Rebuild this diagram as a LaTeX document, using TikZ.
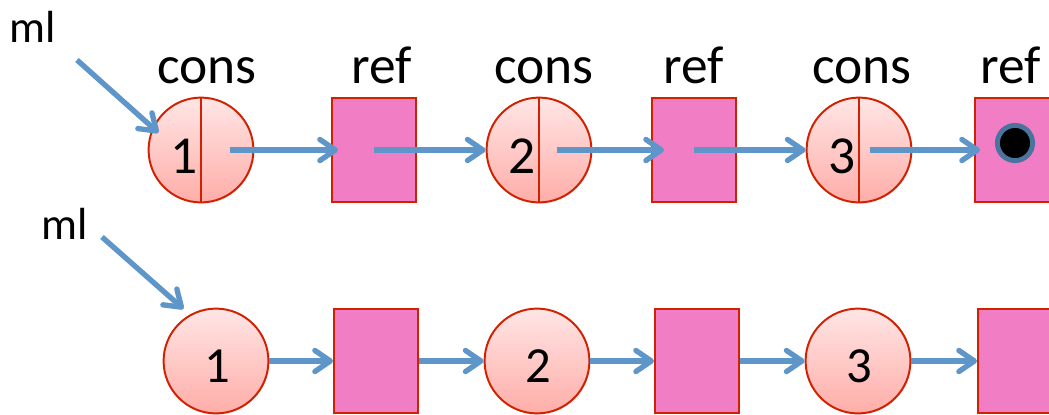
\documentclass[tikz,border=0pt]{standalone}
\usepackage{fontspec}
\setmainfont{Carlito}
\usetikzlibrary{arrows.meta}
\usetikzlibrary{calc}
\usetikzlibrary{shadows}
\definecolor{mpink}{rgb}{0.945, 0.49, 0.77}
\definecolor{mblush}{rgb}{1, 0.9, 0.9}
\definecolor{mrose}{rgb}{1, 0.68, 0.66}
\definecolor{mscarlet}{rgb}{0.82, 0.13, 0}
\definecolor{msky}{rgb}{0.37, 0.59, 0.79}
\definecolor{msteel}{rgb}{0.29, 0.45, 0.62}
\tikzset{cell/.style = {circle, draw = mscarlet, line width = 1.4pt, top color = mblush, bottom color = mrose, minimum size = 2.62cm, inner sep = 0, drop shadow = {opacity = 0.15, shadow xshift = 0.7pt, shadow yshift = -0.9pt}}}
\tikzset{box/.style = {rectangle, draw = mscarlet, line width = 1.4pt, fill = mpink, minimum width = 2.1cm, minimum height = 2.6cm, inner sep = 0, drop shadow = {opacity = 0.15, shadow xshift = 0.7pt, shadow yshift = -0.9pt}}}
\tikzset{link/.style = {msky, line width = 3.8pt, -{Straight Barb[round, length = 11pt, width = 15pt]}}}
\tikzset{word/.style = {font = \fontsize{38}{40}\selectfont, inner sep = 0}}
\tikzset{tag/.style = {font = \fontsize{32}{34}\selectfont, inner sep = 0}}
\tikzset{nilpt/.style = {circle, fill = black, draw = msteel, line width = 3.5pt, minimum size = 0.88cm, inner sep = 0}}

\begin{document}
\begin{tikzpicture}[x = 0.025cm, y = -0.025cm]
  \useasboundingbox (0, 0) rectangle (1049, 414);

  % ml -> cons -> ref -> cons -> ...
  \foreach \x/\t [count = \i] in {207/cons, 382/ref, 544/cons, 694/ref, 862/cons, 1011/ref}
    \node [word, anchor = base] (tl\i) at (\x, 83) {\t};
  \foreach \i/\x in {1/374, 2/694, 3/1017}
    \node [box] (tr\i) at (\x, 150) {};
  \foreach \i/\x in {1/201, 2/539, 3/859} {
    \node [cell] (tc\i) at (\x, 150) {};
    \draw [mscarlet, line width = 1pt] (tc\i.north) -- (tc\i.south);
    \node [word] (tn\i) at ($(tc\i.center) + (-17, 6)$) {\i};
  }
  \node [nilpt] (nil) at (1015, 143) {};

  \foreach \i/\s/\e in {1/29/7, 2/18/13, 3/11/6}
    \draw [link] ($(tc\i.center) + (\s, 0)$) -- ($(tr\i.west) + (\e, 0)$);
  \foreach \i/\j in {1/2, 2/3}
    \draw [link] (tr\i.center) -- (tc\j.west);

  \node [tag] (ml1) at (33, 27) {ml};
  \coordinate (mlfoot1) at (77, 60);
  \draw [link] (mlfoot1) -- ($(tc1.center)!0.86!(tc1.158)$);

  % the same list without the ref labels
  \foreach \i/\x in {1/376, 2/697, 3/1020}
    \node [box] (br\i) at (\x, 361) {};
  \foreach \i/\x in {1/216, 2/537, 3/858} {
    \node [cell] (bc\i) at (\x, 361) {};
    \node [word, font = \fontsize{36}{38}\selectfont] (bn\i) at ($(bc\i.center) + (1, 5)$) {\i};
  }

  \foreach \i in {1, 2, 3}
    \draw [link] (bc\i.east) -- (br\i.west);
  \foreach \i/\j in {1/2, 2/3}
    \draw [link] (br\i.east) -- (bc\j.west);

  \node [tag] (ml2) at (65, 224) {ml};
  \coordinate (mlfoot2) at (102, 237);
  \draw [link] (mlfoot2) -- ($(bc1.center)!1.15!(bc1.122)$);
\end{tikzpicture}
\end{document}
